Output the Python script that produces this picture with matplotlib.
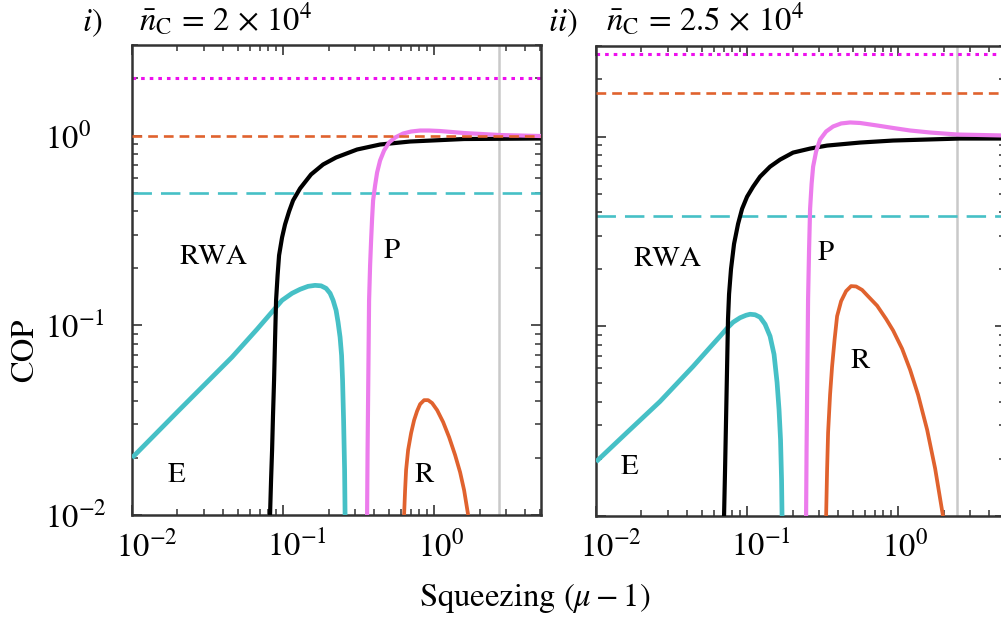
import matplotlib
matplotlib.use("Agg")
import matplotlib.pyplot as plt
from matplotlib.transforms import blended_transform_factory
from matplotlib.ticker import LogLocator, NullFormatter, FixedLocator

plt.rcParams['font.family'] = ['STIXGeneral', 'DejaVu Serif']
plt.rcParams['mathtext.fontset'] = 'stix'
plt.rcParams['lines.scale_dashes'] = False

# ---- panel i) : n_C = 2e4 ----
e1_x = [0.0100, 0.0205, 0.0459, 0.0673, 0.0985, 0.1147, 0.1296, 0.1464, 0.1628, 0.1785,
        0.1927, 0.2048, 0.2144, 0.2244, 0.2313, 0.2385, 0.2440, 0.2477, 0.2516, 0.2555, 0.2574]
e1_y = [0.0200, 0.0357, 0.0679, 0.0953, 0.1354, 0.1474, 0.1547, 0.1604, 0.1623, 0.1614,
        0.1565, 0.1474, 0.1354, 0.1199, 0.1037, 0.0865, 0.0695, 0.0514, 0.0316, 0.0173, 0.0100]

rwa1_x = [0.0820, 0.0833, 0.0846, 0.0858, 0.0872, 0.0885, 0.0899, 0.0920, 0.0941, 0.0985,
          0.1031, 0.1096, 0.1165, 0.1296, 0.1532, 0.1840, 0.2244, 0.3091, 0.4388, 0.6936,
          1.580, 5.11]
rwa1_y = [0.0100, 0.0153, 0.0220, 0.0336, 0.0514, 0.0834, 0.1354, 0.1833, 0.2336, 0.2904,
          0.3401, 0.3980, 0.4548, 0.5261, 0.6235, 0.7035, 0.7661, 0.8440, 0.8967, 0.9299,
          0.9585, 0.9643]

p1_x = [0.3600, 0.3627, 0.3655, 0.3683, 0.3711, 0.3769, 0.3827, 0.3886, 0.3945, 0.4067,
        0.4194, 0.4388, 0.4665, 0.5035, 0.5516, 0.6233, 0.7040, 0.8079, 0.9266, 1.096,
        1.580, 2.736, 5.11]
p1_y = [0.0100, 0.0220, 0.0403, 0.0738, 0.1354, 0.2069, 0.2802, 0.3659, 0.4548, 0.5456,
        0.6388, 0.7386, 0.8337, 0.9188, 0.9760, 1.0245, 1.0498, 1.0625, 1.0625, 1.0560,
        1.0308, 1.0061, 0.9939]

r1_x = [0.6328, 0.6425, 0.6525, 0.6727, 0.7040, 0.7370, 0.7715, 0.8079, 0.8586, 0.9127,
        0.9700, 1.047, 1.147, 1.257, 1.377, 1.486, 1.580, 1.680]
r1_y = [0.0100, 0.0135, 0.0173, 0.0220, 0.0270, 0.0316, 0.0353, 0.0384, 0.0403, 0.0403,
        0.0389, 0.0357, 0.0309, 0.0257, 0.0207, 0.0168, 0.0135, 0.0100]

# horizontal reference levels: (dotted, short dashed, long dashed)
lev1 = [2.0, 1.0, 0.495]
mark1 = 2.69

# ---- panel ii) : n_C = 2.5e4 ----
e2_x = [0.0100, 0.0160, 0.0265, 0.0439, 0.0569, 0.0663, 0.0737, 0.0808, 0.0899, 0.0985,
        0.1047, 0.1130, 0.1219, 0.1316, 0.1420, 0.1509, 0.1580, 0.1628, 0.1666, 0.1692, 0.1705]
e2_y = [0.0193, 0.0275, 0.0401, 0.0614, 0.0774, 0.0886, 0.0976, 0.1050, 0.1109, 0.1143,
        0.1157, 0.1150, 0.1116, 0.1025, 0.0886, 0.0711, 0.0506, 0.0364, 0.0252, 0.0155, 0.0099]

rwa2_x = [0.0704, 0.0715, 0.0726, 0.0737, 0.0748, 0.0760, 0.0783, 0.0820, 0.0872, 0.0927,
          0.1000, 0.1096, 0.1219, 0.1420, 0.1654, 0.2016, 0.2614, 0.3387, 0.5601, 0.9266,
          2.574, 5.11]
rwa2_y = [0.0099, 0.0175, 0.0322, 0.0592, 0.1089, 0.1477, 0.2002, 0.2716, 0.3465, 0.4159,
          0.4815, 0.5438, 0.6142, 0.6937, 0.7556, 0.8228, 0.8640, 0.8961, 0.9295, 0.9525,
          0.9759, 0.9759]

p2_x = [0.2459, 0.2477, 0.2496, 0.2516, 0.2535, 0.2574, 0.2614, 0.2675, 0.2737, 0.2864,
        0.3043, 0.3336, 0.3711, 0.4194, 0.4809, 0.5601, 0.7263, 0.9266, 1.201, 1.629,
        2.459, 5.11]
p2_y = [0.0099, 0.0223, 0.0411, 0.0755, 0.1389, 0.2555, 0.4159, 0.5641, 0.6937, 0.8329,
        0.9641, 1.0628, 1.1295, 1.1718, 1.1862, 1.1786, 1.1433, 1.1092, 1.0758, 1.0499,
        1.0247, 1.0122]

r2_x = [0.3336, 0.3387, 0.3439, 0.3545, 0.3655, 0.3798, 0.3945, 0.4194, 0.4524, 0.4883,
        0.5271, 0.5776, 0.6233, 0.7263, 0.8329, 0.9266, 1.063, 1.201, 1.357, 1.556,
        1.758, 1.986]
r2_y = [0.0099, 0.0175, 0.0275, 0.0437, 0.0614, 0.0853, 0.1130, 0.1356, 0.1532, 0.1628,
        0.1621, 0.1554, 0.1457, 0.1283, 0.1092, 0.0950, 0.0761, 0.0589, 0.0434, 0.0285,
        0.0178, 0.0099]

lev2 = [2.72, 1.69, 0.38]
mark2 = 2.46

xmaj = [0.01, 0.1, 1.0]
xlab = [r'$10^{-2}$', r'$10^{-1}$', r'$10^{0}$']
ymaj = [0.01, 0.1, 1.0]
ylab = [r'$10^{-2}$', r'$10^{-1}$', r'$10^{0}$']

cyan = '#46c0c6'
orange = '#e0622e'
violet = '#ec7cec'
magenta = '#ee10ee'
lgray = '#c9c9c9'
dark = '#333333'

W, H = 1001, 619
fig = plt.figure(figsize=(W / 100, H / 100), dpi=100)

ax1 = fig.add_axes([132 / W, 1 - 515 / H, 409 / W, 470 / H])
ax2 = fig.add_axes([596 / W, 1 - 516 / H, 409 / W, 470 / H])


def panel(ax, e, rwa, p, r, lev, mark, labels):
    ax.set_xscale('log')
    ax.set_yscale('log')
    ax.set_xlim(0.01, 5.1)
    ax.set_ylim(0.01, 3.0)

    ax.axvline(mark, color=lgray, lw=1.8, zorder=1)
    ax.axhline(lev[0], color=magenta, lw=2.2, ls=(0, (2.6, 3.6)), zorder=2)
    ax.axhline(lev[1], color=orange, lw=1.9, ls=(0, (7.0, 4.3)), zorder=4)
    ax.axhline(lev[2], color=cyan, lw=1.9, ls=(0, (14.0, 6.5)), zorder=2)

    ax.plot(*e, color=cyan, lw=3.4, zorder=3, solid_capstyle='butt')
    ax.plot(*rwa, color='black', lw=3.0, zorder=3, solid_capstyle='butt')
    ax.plot(*p, color=violet, lw=3.0, zorder=3, solid_capstyle='butt')
    ax.plot(*r, color=orange, lw=2.7, zorder=3, solid_capstyle='butt')

    for txt, (fx, fy) in labels.items():
        ax.text(fx, fy, txt, transform=ax.transAxes, fontsize=21,
                ha='center', va='center')

    for s in ax.spines.values():
        s.set_color(dark)
        s.set_linewidth(1.8)
    ax.xaxis.set_major_locator(FixedLocator(xmaj))
    ax.yaxis.set_major_locator(FixedLocator(ymaj))
    ax.xaxis.set_minor_locator(LogLocator(base=10, subs=range(2, 10), numticks=20))
    ax.yaxis.set_minor_locator(LogLocator(base=10, subs=range(2, 10), numticks=20))
    ax.xaxis.set_minor_formatter(NullFormatter())
    ax.yaxis.set_minor_formatter(NullFormatter())
    ax.tick_params(which='both', direction='in', top=True, right=True,
                   color=dark, labelbottom=False, labelleft=False)
    ax.tick_params(which='major', length=7, width=1.2)
    ax.tick_params(which='minor', length=4, width=1.1)

    # tick labels: the "10" sits centred on the tick
    tx = blended_transform_factory(ax.transData, fig.transFigure)
    for v, s in zip(xmaj, xlab):
        ax.text(v / 10 ** 0.109, 1 - 531 / H, s, transform=tx, fontsize=23.5,
                ha='left', va='top', clip_on=False)


panel(ax1, (e1_x, e1_y), (rwa1_x, rwa1_y), (p1_x, p1_y), (r1_x, r1_y), lev1, mark1,
      {'RWA': (0.198, 0.547), 'P': (0.636, 0.560), 'E': (0.110, 0.085), 'R': (0.714, 0.085)})
panel(ax2, (e2_x, e2_y), (rwa2_x, rwa2_y), (p2_x, p2_y), (r2_x, r2_y), lev2, mark2,
      {'RWA': (0.174, 0.545), 'P': (0.562, 0.558), 'E': (0.083, 0.104), 'R': (0.645, 0.329)})

# y tick labels of the left panel, flush left
ty = blended_transform_factory(fig.transFigure, ax1.transData)
for v, s in zip(ymaj, ylab):
    ax1.text(45 / W, v, s, transform=ty, fontsize=23.5, ha='left',
             va='center_baseline', clip_on=False)

fig.text(25 / W, 1 - 350 / H, 'COP', rotation=90, fontsize=23.5, ha='center', va='center')
fig.text(535 / W, 1 - 598 / H, r'Squeezing $(\mu-1)$', fontsize=23.5, ha='center', va='center')

fig.text(82 / W, 1 - 31 / H, r'$i$)', fontsize=23.5, ha='left', va='baseline')
fig.text(139 / W, 1 - 31 / H, r'$\bar{n}_{\mathrm{C}}\,=\,2\,\times\,10^{4}$', fontsize=23.5,
         ha='left', va='baseline')
fig.text(548 / W, 1 - 31 / H, r'$ii$)', fontsize=23.5, ha='left', va='baseline')
fig.text(606 / W, 1 - 31 / H, r'$\bar{n}_{\mathrm{C}}\,=\,2.5\,\times\,10^{4}$', fontsize=23.5,
         ha='left', va='baseline')

fig.savefig('out.png', dpi=100)
